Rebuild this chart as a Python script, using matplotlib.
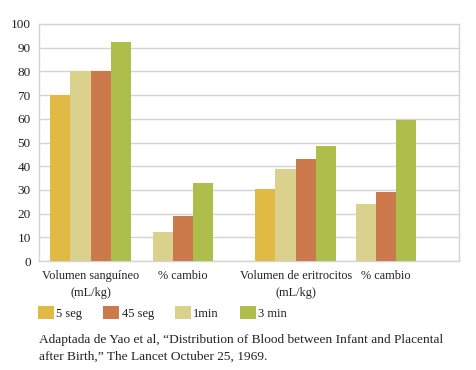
import numpy as np
import matplotlib.pyplot as plt

# data
categories = ["Volumen sanguíneo\n(mL/kg)", "% cambio",
              "Volumen de eritrocitos\n(mL/kg)", "% cambio"]
series_names = ["5 seg", "1min", "45 seg", "3 min"]   # order of bars in each group
seg5 = [70, 0, 30.4, 0]
min1 = [80, 12.2, 38.8, 24]
seg45 = [80, 19, 43, 29.1]
min3 = [92.4, 32.9, 48.5, 59.5]
values = [seg5, min1, seg45, min3]
colors = ["#E1BA46", "#D9D18C", "#CC7A4C", "#AEBE4B"]
legend_order = ["5 seg", "45 seg", "1min", "3 min"]
caption = ("Adaptada de Yao et al, \u201cDistribution of Blood between Infant and Placental\n"
           "after Birth,\u201d The Lancet Octuber 25, 1969.")

plt.rcParams['font.family'] = ['Liberation Serif', 'DejaVu Serif']
txt_color = '#222222'
grid_color = '#d2d5d5'

fig = plt.figure(figsize=(4.77, 3.70), dpi=100)
ax = fig.add_axes([39 / 477, 109 / 370, 420 / 477, 237 / 370])

group_start = np.array([0.55, 4.6, 10.65, 14.6])
bars = {}
for i, (name, vals, c) in enumerate(zip(series_names, values, colors)):
    bars[name] = ax.bar(group_start + i + 0.5, vals, width=1.0, color=c, zorder=3)

# label each group under its visible bars
for g, cat in enumerate(categories):
    xs = [group_start[g] + i + 0.5 for i in range(4) if values[i][g] > 0]
    ax.text(np.mean(xs), -3.8, cat, ha='center', va='top', fontsize=8.8,
            color=txt_color, linespacing=1.5)

ax.set_xlim(0, 20.7)
ax.set_ylim(0, 100)
ax.set_yticks(range(0, 101, 10))
ax.set_xticks([])
ax.yaxis.grid(True, color=grid_color, linewidth=1, zorder=0)
ax.tick_params(axis='y', length=0, pad=6, labelsize=9.5, labelcolor=txt_color)
for s in ax.spines.values():
    s.set_color(grid_color)
    s.set_linewidth(1)

fig.legend([bars[n] for n in legend_order], legend_order, loc='upper left',
           bbox_to_anchor=(38 / 477, 1 - 306 / 370), ncol=4, frameon=False,
           fontsize=9, handlelength=1.25, handleheight=1.25, handletextpad=0.2,
           columnspacing=1.7, borderpad=0, borderaxespad=0, labelcolor=txt_color)

fig.text(39 / 477, 1 - 334 / 370, caption, ha='left', va='top', fontsize=9.6,
         color=txt_color, linespacing=1.55)

fig.savefig("out.png", dpi=100)
